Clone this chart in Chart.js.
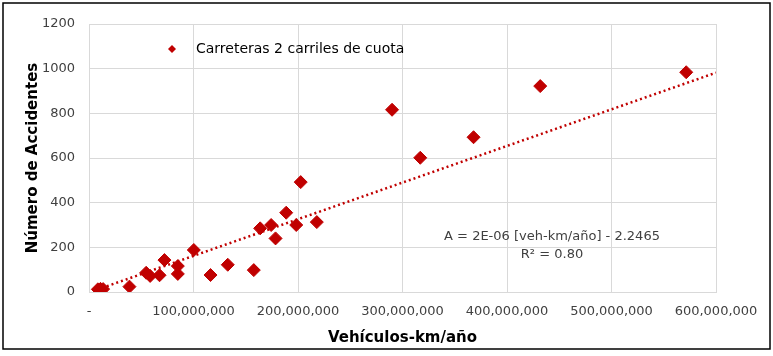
<!DOCTYPE html>
<html>
<head>
<meta charset="utf-8">
<script src="https://cdn.jsdelivr.net/npm/chart.js@4.4.1/dist/chart.umd.min.js"></script>
<style>
  html, body { margin: 0; padding: 0; background: #fff; }
  #wrap { width: 773px; height: 356px; position: relative; }
</style>
</head>
<body>
<div id="wrap"><canvas id="accChart" width="773" height="356"></canvas></div>
<script>
// valores (veh-km/año vs. accidentes)
const vehKm = [8500000, 11000000, 13500000, 38700000, 54700000, 58500000, 67500000, 72200000,
  85000000, 85000000, 100300000, 116300000, 132800000, 157700000, 163800000, 174300000,
  178500000, 188700000, 198300000, 202600000, 218000000, 290000000, 317000000, 368000000,
  431800000, 571500000];
const accidentes = [12, 14, 13, 24, 86, 72, 75, 143, 116, 81, 188, 76, 122, 98, 285, 300,
  240, 355, 300, 492, 313, 816, 601, 693, 922, 984];
// línea de tendencia (extremos leídos)
const trendX = [8000000, 600000000];
const trendY = [11, 982];
const serieNombre = 'Carreteras 2 carriles de cuota';
const ecuacion = ['A = 2E-06 [veh-km/año] - 2.2465', 'R² = 0.80'];

const rojo = '#C00000';
const fuente = "'DejaVu Sans', sans-serif";

const extras = {
  id: 'extras',
  afterDraw(chart) {
    const c = chart.ctx;
    c.save();
    // leyenda dentro del área
    const lx = 172, ly = 49;
    c.fillStyle = rojo;
    c.beginPath();
    c.moveTo(lx, ly - 4); c.lineTo(lx + 4, ly); c.lineTo(lx, ly + 4); c.lineTo(lx - 4, ly);
    c.closePath(); c.fill();
    c.fillStyle = '#000';
    c.font = '14px ' + fuente;
    c.textBaseline = 'middle';
    c.textAlign = 'left';
    c.fillText(serieNombre, 196, ly);
    // ecuación
    c.fillStyle = '#404040';
    c.textAlign = 'center';
    c.font = '13px ' + fuente;
    c.fillText(ecuacion[0], 552, 237);
    c.fillText(ecuacion[1], 552, 255);
    // marco
    c.strokeStyle = '#000';
    c.lineWidth = 1.5;
    c.strokeRect(3, 3, 767, 346);
    c.restore();
  }
};

new Chart(document.getElementById('accChart'), {
  type: 'scatter',
  data: {
    datasets: [
      {
        label: serieNombre,
        data: vehKm.map((v, i) => ({ x: v, y: accidentes[i] })),
        backgroundColor: rojo,
        borderColor: rojo,
        pointStyle: 'rectRot',
        pointRadius: 6.5,
        order: 1
      },
      {
        label: 'Tendencia',
        type: 'line',
        data: trendX.map((v, i) => ({ x: v, y: trendY[i] })),
        borderColor: rojo,
        borderWidth: 2.5,
        borderDash: [2, 3],
        pointRadius: 0,
        fill: false,
        order: 2
      }
    ]
  },
  options: {
    responsive: false,
    animation: false,
    layout: { padding: { left: 20, right: 57, top: 24, bottom: 5 } },
    plugins: { legend: { display: false }, tooltip: { enabled: false } },
    scales: {
      x: {
        type: 'linear',
        min: 0, max: 600000000,
        ticks: {
          stepSize: 100000000,
          color: '#404040',
          font: { family: fuente, size: 13 },
          padding: 12,
          maxRotation: 0,
          callback: v => v === 0 ? '-' : v.toLocaleString('en-US')
        },
        grid: { color: '#d9d9d9', drawTicks: false },
        border: { color: '#d9d9d9' },
        title: {
          display: true,
          text: 'Vehículos-km/año',
          color: '#000',
          font: { family: fuente, size: 15, weight: 'bold' },
          padding: { top: 4 }
        },
        afterFit(s) { s.height = 59; }
      },
      y: {
        min: 0, max: 1200,
        ticks: {
          stepSize: 200,
          color: '#404040',
          font: { family: fuente, size: 13 },
          padding: 14,
          callback: v => String(v)
        },
        grid: { color: '#d9d9d9', drawTicks: false },
        border: { color: '#d9d9d9' },
        title: {
          display: true,
          text: 'Número de Accidentes',
          color: '#000',
          font: { family: fuente, size: 15, weight: 'bold' }
        },
        afterFit(s) { s.width = 69; }
      }
    }
  },
  plugins: [extras]
});
</script>
</body>
</html>
